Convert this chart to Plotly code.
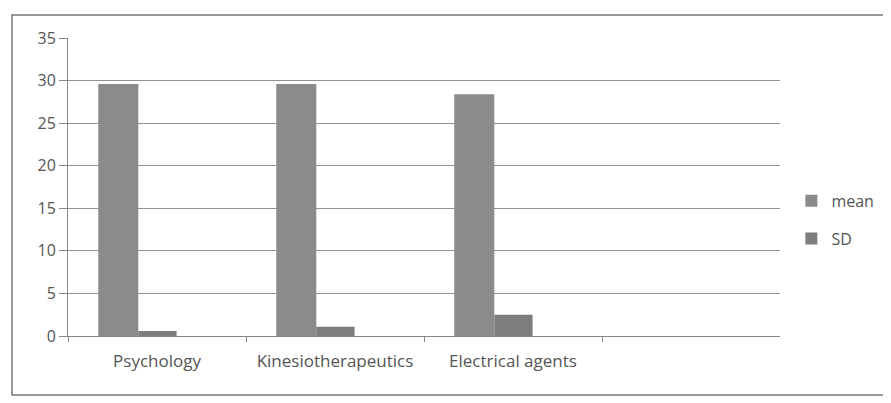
import plotly.graph_objects as go

categories = ["Psychology", "Kinesiotherapeutics", "Electrical agents"]
mean_vals = [29.6, 29.6, 28.4]
sd_vals = [0.6, 1.1, 2.5]
y_ticks = [0, 5, 10, 15, 20, 25, 30, 35]

fig = go.Figure()
fig.add_trace(go.Bar(name="mean", x=categories, y=mean_vals, legendgroup="a",
                     width=0.225, offset=-0.33,
                     marker=dict(color="#8b8b8b", line=dict(width=0))))
fig.add_trace(go.Bar(name="SD", x=categories, y=sd_vals, legendgroup="b",
                     width=0.215, offset=-0.105,
                     marker=dict(color="#7d7d7d", line=dict(width=0))))

font = dict(family="'Open Sans', sans-serif", size=16, color="#555555")

fig.update_layout(
    width=883, height=395,
    margin=dict(l=60, r=111, t=30, b=67),
    paper_bgcolor="white", plot_bgcolor="white",
    barmode="overlay",
    font=font,
    showlegend=True,
    legend=dict(x=1.016, y=0.39, xanchor="left", yanchor="middle",
                font=dict(size=16, color="#555555"), tracegroupgap=14,
                traceorder="grouped", bgcolor="rgba(0,0,0,0)"),
    xaxis=dict(
        range=[-0.5, 3.5], showgrid=False, showline=True, linecolor="#888888",
        ticks="outside", tickson="boundaries", ticklen=5, tickcolor="#888888",
        ticklabelstandoff=10, tickfont=dict(size=17, color="#555555"),
    ),
    yaxis=dict(
        range=[0, 35], tickvals=y_ticks, showgrid=True, gridcolor="#939393",
        gridwidth=1, showline=True, linecolor="#888888", ticks="outside",
        ticklen=8, tickcolor="#888888", zeroline=False,
        tickfont=dict(size=16, color="#555555"),
    ),
    shapes=[dict(type="rect", xref="paper", yref="paper",
                 x0=-0.0787, x1=1.1475, y0=-0.198, y1=1.077,
                 line=dict(color="#777777", width=1.5))],
)

fig.write_html("out.html")
